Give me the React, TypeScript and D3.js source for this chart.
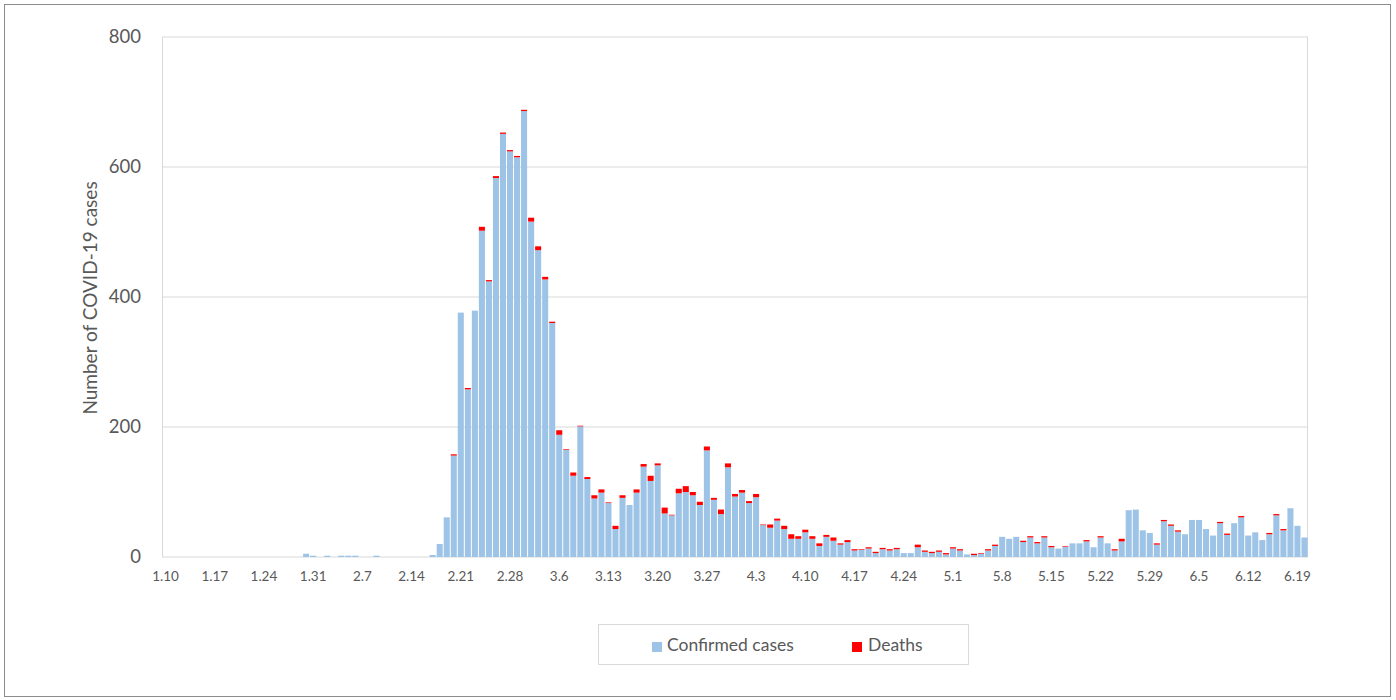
import React from "react";
import * as d3 from "d3";

// Daily counts from 1.10 to 6.20 (2020)
const startDate = new Date(2020, 0, 10);
const endDate = new Date(2020, 5, 21);
const dates: string[] = d3.timeDay
  .range(startDate, endDate)
  .map((d) => `${d.getMonth() + 1}.${d.getDate()}`);

const confirmed: number[] = [
  0, 0, 0, 0, 0, 0, 0, 0, 0, 0,
  0, 0, 0, 0, 0, 0, 0, 0, 0, 0,
  5, 2, 0, 2, 0, 2, 2, 2, 0, 0,
  2, 0, 0, 0, 0, 0, 0, 0, 3, 20,
  61, 156, 376, 258, 379, 502, 424, 583, 651, 624,
  615, 686, 516, 472, 427, 360, 188, 165, 125, 201,
  120, 90, 99, 83, 43, 91, 80, 99, 139, 117,
  141, 67, 64, 98, 100, 95, 80, 164, 88, 66,
  138, 93, 99, 83, 92, 49, 45, 56, 43, 28,
  28, 38, 28, 17, 31, 25, 19, 23, 10, 11,
  13, 6, 12, 10, 12, 6, 6, 15, 8, 6,
  8, 4, 13, 10, 4, 3, 5, 10, 17, 31,
  28, 31, 23, 30, 21, 30, 15, 13, 16, 21,
  21, 24, 15, 30, 21, 10, 24, 72, 73, 41,
  37, 19, 55, 48, 39, 35, 57, 57, 43, 33,
  52, 34, 52, 61, 33, 38, 26, 35, 64, 41,
  75, 48, 30,
];

const deaths: number[] = [
  0, 0, 0, 0, 0, 0, 0, 0, 0, 0,
  0, 0, 0, 0, 0, 0, 0, 0, 0, 0,
  0, 0, 0, 0, 0, 0, 0, 0, 0, 0,
  0, 0, 0, 0, 0, 0, 0, 0, 0, 0,
  0, 2, 0, 2, 0, 6, 2, 3, 2, 2,
  2, 2, 6, 6, 4, 2, 7, 1, 5, 1,
  3, 5, 5, 1, 5, 4, 0, 5, 4, 8,
  3, 9, 1, 7, 9, 5, 5, 6, 3, 7,
  6, 4, 4, 3, 5, 1, 5, 3, 5, 7,
  4, 4, 4, 4, 3, 5, 2, 3, 2, 1,
  2, 2, 2, 2, 2, 0, 0, 4, 2, 2,
  2, 2, 2, 2, 0, 2, 1, 2, 2, 0,
  0, 0, 2, 2, 2, 2, 2, 0, 1, 0,
  0, 2, 0, 2, 0, 2, 4, 0, 0, 0,
  0, 2, 2, 2, 2, 0, 0, 0, 0, 0,
  2, 2, 0, 2, 0, 0, 0, 2, 2, 2,
  0, 0, 0,
];

const yTicks: number[] = [0, 200, 400, 600, 800];
const seriesNames: string[] = ["Confirmed cases", "Deaths"];
const seriesColors: string[] = ["#9dc3e6", "#ff0000"];

const W = 1396;
const H = 700;
const plot = { left: 162, right: 1308, top: 37, bottom: 557 };
const FONT = "Lato, 'Open Sans', sans-serif";
const TEXT = "#595959";
const GRID = "#d9d9d9";

export default function App() {
  const rows = dates.map((d, i) => ({
    date: d,
    confirmed: confirmed[i] ?? 0,
    deaths: deaths[i] ?? 0,
  }));
  const x = d3
    .scaleBand<string>()
    .domain(dates)
    .range([plot.left, plot.right])
    .paddingInner(0.14)
    .paddingOuter(0.07);
  const y = d3.scaleLinear().domain([0, 800]).range([plot.bottom, plot.top]);
  const stack = d3.stack<any>().keys(["confirmed", "deaths"]);
  const layers = stack(rows);
  const tickDates = dates.filter((_, i) => i % 7 === 0);
  const center = (d: string) => (x(d) ?? 0) + x.bandwidth() / 2;

  return (
    <div style={{ position: "absolute", left: 0, top: 0 }}>
      <svg width={W} height={H} style={{ display: "block", background: "#fff" }}>
        <rect x={4.5} y={4.5} width={1386} height={692} fill="#fff" stroke="#8c8c8c" strokeWidth={1} />
        {/* gridlines */}
        {yTicks.map((t) => (
          <line key={t} x1={plot.left} x2={plot.right} y1={y(t)} y2={y(t)} stroke={GRID} strokeWidth={1} />
        ))}
        <line x1={plot.left + 0.5} x2={plot.left + 0.5} y1={plot.top} y2={plot.bottom} stroke={GRID} />
        <line x1={plot.right - 0.5} x2={plot.right - 0.5} y1={plot.top} y2={plot.bottom} stroke={GRID} />
        {/* bars */}
        {layers.map((layer, li) => (
          <g key={layer.key} fill={seriesColors[li]}>
            {layer.map((seg, i) => {
              const h = y(seg[0]) - y(seg[1]);
              if (h <= 0) return null;
              return (
                <rect
                  key={i}
                  x={x(rows[i].date)}
                  y={y(seg[1])}
                  width={x.bandwidth()}
                  height={h}
                />
              );
            })}
          </g>
        ))}
        {/* y tick labels */}
        {yTicks.map((t) => (
          <text key={t} x={141} y={y(t)} dy="0.35em" textAnchor="end" fontFamily={FONT} fontSize={18.5} fill={TEXT}>
            {t}
          </text>
        ))}
        {/* x tick labels */}
        {tickDates.map((d) => (
          <text key={d} x={center(d)} y={581} textAnchor="middle" fontFamily={FONT} fontSize={13.5} fill={TEXT}>
            {d}
          </text>
        ))}
        {/* axis title */}
        <text
          transform={`translate(97,298) rotate(-90)`}
          textAnchor="middle"
          fontFamily={FONT}
          fontSize={19}
          fill={TEXT}
        >
          Number of COVID-19 cases
        </text>
        {/* legend */}
        <rect x={598.5} y={624.5} width={370} height={40} fill="#fff" stroke={GRID} />
        <rect x={652} y={642} width={10} height={10} fill={seriesColors[0]} />
        <text x={667} y={650.5} fontFamily={FONT} fontSize={17.5} fill={TEXT}>
          {seriesNames[0]}
        </text>
        <rect x={852} y={642} width={10} height={10} fill={seriesColors[1]} />
        <text x={868} y={650.5} fontFamily={FONT} fontSize={17.5} fill={TEXT}>
          {seriesNames[1]}
        </text>
      </svg>
    </div>
  );
}
